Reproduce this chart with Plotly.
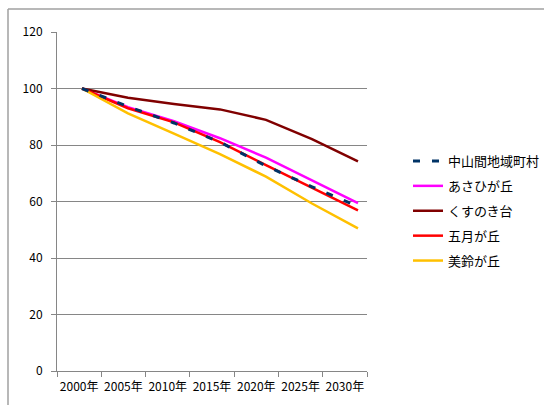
import plotly.graph_objects as go

years = ["2000年", "2005年", "2010年", "2015年", "2020年", "2025年", "2030年"]
idx = [0, 1, 2, 3, 4, 5, 6]

chusankan = [100, 93.6, 87.8, 81.0, 72.6, 65.2, 58.2]
asahi = [100, 93.4, 88.4, 82.4, 75.5, 67.5, 59.4]
kusunoki = [100, 96.7, 94.5, 92.6, 88.9, 82.1, 74.2]
satsuki = [100, 93.0, 88.0, 81.0, 72.9, 64.9, 56.9]
misuzu = [100, 91.2, 84.0, 76.8, 68.8, 59.3, 50.5]

series = [
    ("中山間地域町村", chusankan, "#003366", "7px,12px"),
    ("あさひが丘", asahi, "#FF00FF", "solid"),
    ("くすのき台", kusunoki, "#800000", "solid"),
    ("五月が丘", satsuki, "#FF0000", "solid"),
    ("美鈴が丘", misuzu, "#FFC000", "solid"),
]

FONT = "Noto Sans CJK JP, Noto Sans, sans-serif"
GRID = "#868686"

fig = go.Figure()

# dummy trace to register categories on the label axis
fig.add_trace(go.Scatter(x=years, y=[None] * len(years), xaxis="x2", yaxis="y",
                         showlegend=False, hoverinfo="skip", mode="lines"))

# draw solid series first, dashed on top; legend order via legendrank
draw_order = [1, 2, 3, 4, 0]
for i in draw_order:
    name, vals, color, dash = series[i]
    fig.add_trace(go.Scatter(
        x=idx, y=vals, name=name, mode="lines",
        line=dict(color=color, width=3 if i == 0 else 2.5, dash=dash),
        legendgroup=name, legendrank=i + 1,
    ))

L, R, T, B = 57, 177, 32, 34
W, H = 544, 405
pw, ph = W - L - R, H - T - B

fx = (8 - L) / pw
fy = 1 + (T - 9) / ph

fig.update_layout(
    width=W, height=H,
    margin=dict(l=L, r=R, t=T, b=B, autoexpand=False),
    paper_bgcolor="white", plot_bgcolor="white",
    font=dict(family=FONT, size=12, color="#000000"),
    xaxis=dict(range=[-0.543, 6.196], visible=False, showgrid=False, zeroline=False),
    xaxis2=dict(type="category", overlaying="x", anchor="y", side="bottom",
                range=[-0.5, 6.5], tickson="boundaries", ticks="outside",
                ticklen=5, tickcolor=GRID, showline=True, linecolor=GRID,
                linewidth=1, showgrid=False, zeroline=False, tickangle=0,
                automargin=False, ticklabelstandoff=5,
                tickfont=dict(family=FONT, size=12)),
    yaxis=dict(range=[0, 120], dtick=20, showgrid=True, gridcolor=GRID,
               gridwidth=1, showline=True, linecolor=GRID, linewidth=1,
               ticks="outside", ticklen=5, tickcolor=GRID, zeroline=False,
               automargin=False,
               tickfont=dict(family=FONT, size=12), ticklabelstandoff=6),
    legend=dict(x=(408 - L) / pw, y=1 - (146 - T) / ph, xanchor="left", yanchor="top",
                font=dict(family=FONT, size=13), tracegroupgap=5,
                itemwidth=30, bgcolor="rgba(0,0,0,0)", traceorder="grouped",
                borderwidth=0),
    showlegend=True,
    shapes=[
        dict(type="line", xref="paper", yref="paper", x0=fx, x1=fx, y0=fy, y1=-0.2,
             line=dict(color="#A0A0A0", width=1.5)),
        dict(type="line", xref="paper", yref="paper", x0=fx, x1=1.7, y0=fy, y1=fy,
             line=dict(color="#A0A0A0", width=1.5)),
    ],
)

fig.write_html("out.html")
